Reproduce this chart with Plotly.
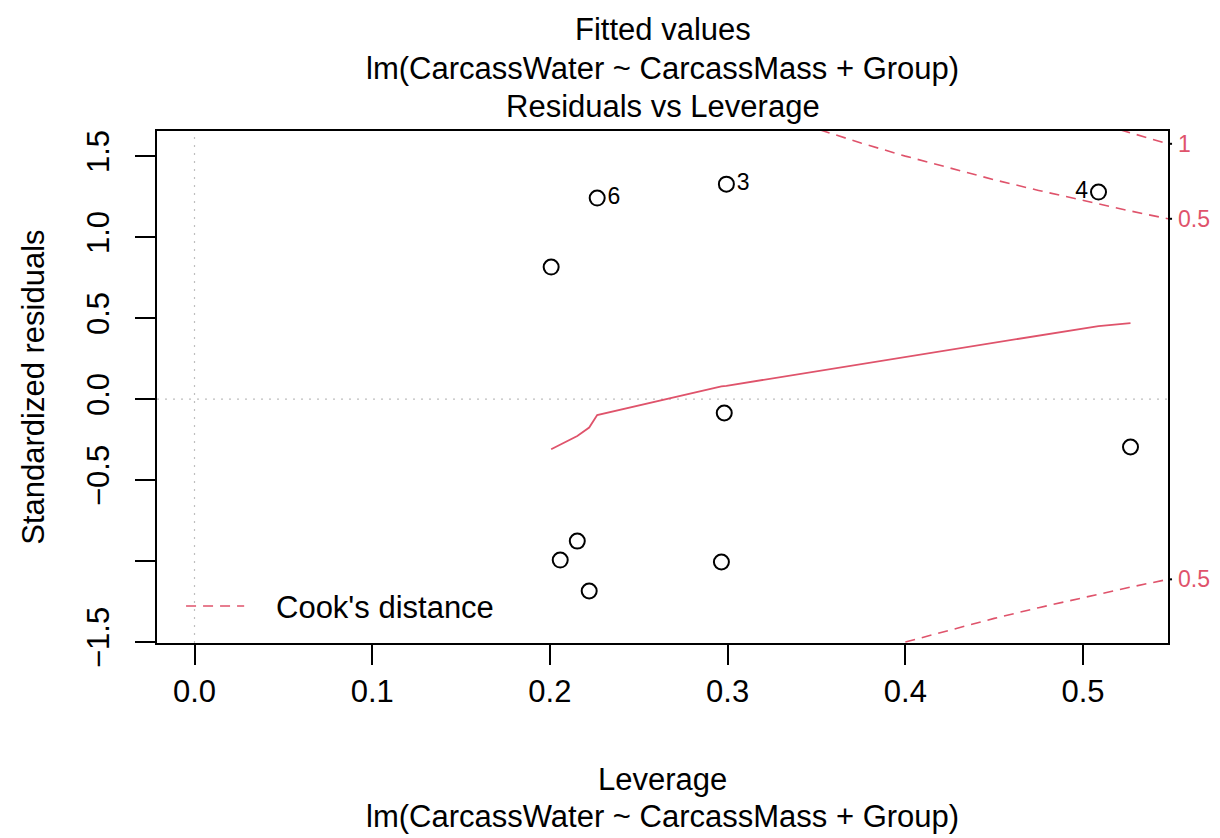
import plotly.graph_objects as go

# ---- data ----
leverage = [0.2007, 0.2266, 0.2993, 0.5087, 0.2981, 0.5267, 0.2154, 0.2058, 0.2965, 0.2221]
std_resid = [0.815, 1.241, 1.327, 1.278, -0.086, -0.296, -0.877, -0.994, -1.006, -1.185]
point_ids = ["", "6", "3", "4", "", "", "", "", "", ""]
id_positions = ["middle right", "middle right", "middle right", "middle left",
                "middle right", "middle right", "middle right", "middle right",
                "middle right", "middle right"]

smooth_x = [0.2007, 0.2058, 0.2154, 0.2221, 0.2266, 0.2965, 0.2981, 0.2993, 0.5087, 0.5267]
smooth_y = [-0.310, -0.283, -0.228, -0.176, -0.099, 0.078, 0.080, 0.082, 0.451, 0.469]

cook05_up_x = [0.352, 0.375, 0.400, 0.425, 0.450, 0.475, 0.500, 0.525, 0.5478]
cook05_up_y = [1.662, 1.581, 1.500, 1.425, 1.354, 1.288, 1.225, 1.165, 1.113]
cook05_lo_x = [0.400, 0.425, 0.450, 0.475, 0.500, 0.525, 0.5478]
cook05_lo_y = [-1.500, -1.425, -1.354, -1.288, -1.225, -1.165, -1.113]
cook1_up_x = [0.521, 0.535, 0.5478]
cook1_up_y = [1.662, 1.615, 1.576]
cook_labels = ["1", "0.5", "0.5"]

x_ticks = [0.0, 0.1, 0.2, 0.3, 0.4, 0.5]
y_ticks = [-1.5, -1.0, -0.5, 0.0, 0.5, 1.0, 1.5]
y_ticktext = ["\u22121.5", "", "\u22120.5", "0.0", "0.5", "1.0", "1.5"]

x_range = [-0.0211, 0.5478]
y_range = [-1.506, 1.655]

RED = "#DF536B"
FONT = "Liberation Sans, Arial, Helvetica, sans-serif"
FS = 31
model = "lm(CarcassWater ~ CarcassMass + Group)"

fig = go.Figure()

# reference lines (gray dotted)
fig.add_trace(go.Scatter(x=[0, 0], y=y_range, mode="lines",
                         line=dict(color="#BEBEBE", width=1.2, dash="2px,6px"),
                         hoverinfo="skip", showlegend=False))
fig.add_trace(go.Scatter(x=x_range, y=[0, 0], mode="lines",
                         line=dict(color="#BEBEBE", width=1.2, dash="2px,6px"),
                         hoverinfo="skip", showlegend=False))

# Cook's distance contours
for cx, cy in [(cook05_up_x, cook05_up_y), (cook05_lo_x, cook05_lo_y), (cook1_up_x, cook1_up_y)]:
    fig.add_trace(go.Scatter(x=cx, y=cy, mode="lines",
                             line=dict(color=RED, width=1.6, dash="10px,7px"),
                             showlegend=False))

# smoother
fig.add_trace(go.Scatter(x=smooth_x, y=smooth_y, mode="lines",
                         line=dict(color=RED, width=1.8), showlegend=False))

# points
fig.add_trace(go.Scatter(x=leverage, y=std_resid, mode="markers+text",
                         text=point_ids, textposition=id_positions,
                         textfont=dict(family=FONT, size=23, color="black"),
                         marker=dict(symbol="circle-open", size=15,
                                     line=dict(color="black", width=2), color="black"),
                         showlegend=False, cliponaxis=False))

annotations = []
# right side cook labels
for lab, yv in zip(cook_labels, [cook1_up_y[-1], cook05_up_y[-1], cook05_lo_y[-1]]):
    annotations.append(dict(x=1.0, xref="paper", y=yv, yref="y", text=lab,
                            showarrow=False, xanchor="left", xshift=8,
                            font=dict(family=FONT, size=23, color=RED)))

shapes = []
for yv in [cook1_up_y[-1], cook05_up_y[-1], cook05_lo_y[-1]]:
    shapes.append(dict(type="line", xref="paper", yref="y", x0=1.0, x1=1.004,
                       y0=yv, y1=yv, line=dict(color="black", width=2)))

# legend (manual, R style without box)
shapes.append(dict(type="line", xref="paper", yref="paper",
                   x0=(186 - 157) / 1009, x1=(244 - 157) / 1009,
                   y0=(642 - 605) / 512, y1=(642 - 605) / 512,
                   line=dict(color=RED, width=1.6, dash="10px,7px")))
annotations.append(dict(x=(274 - 157) / 1009, y=(642 - 606) / 512, xref="paper", yref="paper",
                        text="Cook's distance", showarrow=False, xanchor="left", yanchor="middle",
                        font=dict(family=FONT, size=FS, color="black")))

# titles
for txt, py in [("Fitted values", 28), (model, 67), ("Residuals vs Leverage", 105),
                ("Leverage", 778), (model, 815)]:
    annotations.append(dict(x=0.5, y=(642 - py) / 512, xref="paper", yref="paper",
                            text=txt, showarrow=False, xanchor="center", yanchor="middle",
                            font=dict(family=FONT, size=FS, color="black")))
annotations.append(dict(x=(33 - 157) / 1009, y=0.5, xref="paper", yref="paper",
                        text="Standardized residuals", textangle=-90, showarrow=False,
                        xanchor="center", yanchor="middle",
                        font=dict(family=FONT, size=FS, color="black")))

fig.update_layout(
    width=1220, height=838,
    margin=dict(l=157, r=52, t=131, b=195),
    paper_bgcolor="white", plot_bgcolor="white",
    font=dict(family=FONT, size=FS, color="black"),
    xaxis=dict(range=x_range, tickvals=x_ticks, tickformat=".1f",
               ticks="outside", ticklen=20, tickwidth=1.5, tickcolor="black",
               showgrid=False, zeroline=False, showline=True, linecolor="black",
               linewidth=2, mirror=True, tickfont=dict(size=FS)),
    yaxis=dict(range=y_range, tickvals=y_ticks, ticktext=y_ticktext, tickangle=-90,
               ticks="outside", ticklen=20, tickwidth=1.5, tickcolor="black",
               ticklabelstandoff=14,
               showgrid=False, zeroline=False, showline=True, linecolor="black",
               linewidth=2, mirror=True, tickfont=dict(size=FS)),
    annotations=annotations, shapes=shapes, showlegend=False,
)

fig.write_html("out.html")
